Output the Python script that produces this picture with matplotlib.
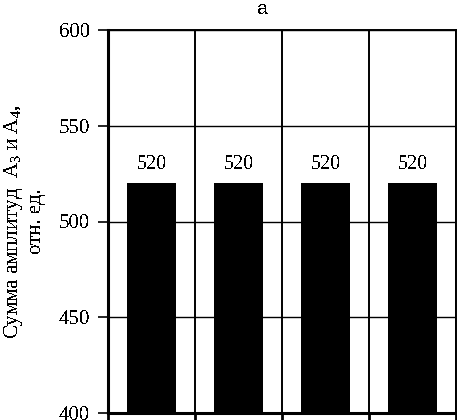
import matplotlib
matplotlib.use("Agg")
import numpy as np
import matplotlib.pyplot as plt

plt.rcParams['font.family'] = ['Liberation Serif', 'DejaVu Serif']
plt.rcParams['mathtext.fontset'] = 'custom'
plt.rcParams['mathtext.rm'] = 'Liberation Serif'
plt.rcParams['mathtext.it'] = 'Liberation Serif'
plt.rcParams['text.antialiased'] = False

# data
categories = ['1', '2', '3', '4']
values = [520, 520, 520, 520]
y_ticks = [400, 450, 500, 550, 600]
title = "a"
ylabel = "Сумма амплитуд  А$_3$ и А$_4$,\nотн. ед."

W, H = 457, 420
fig = plt.figure(figsize=(W / 100, H / 100), dpi=100, facecolor='white')
ax = fig.add_axes([108 / W, 1 - 413 / H, (456 - 108) / W, (413 - 30) / H])

x = np.arange(len(categories)) + 0.5
ax.bar(x, values, width=0.56, color='black', zorder=3)
for xi, v in zip(x, values):
    ax.text(xi, v + 5, f"{v}", ha='center', va='bottom', fontsize=14.5, color='black')

ax.set_xlim(0, len(categories))
ax.set_ylim(y_ticks[0], y_ticks[-1])
ax.set_yticks(y_ticks)
ax.set_xticks(np.arange(len(categories) + 1))
ax.set_xticklabels([])
ax.tick_params(axis='y', direction='out', length=7, width=1.2, labelsize=15, pad=6)
ax.tick_params(axis='x', direction='out', length=6, width=2)

# grid sits under the bars
ax.grid(True, axis='y', color='black', linewidth=1.0, zorder=1)
ax.grid(True, axis='x', color='black', linewidth=1.4, zorder=1)
for s in ax.spines.values():
    s.set_linewidth(1.4)
ax.spines['left'].set_linewidth(2.2)
ax.spines['bottom'].set_linewidth(2.2)

ax.set_ylabel(ylabel, fontsize=15, linespacing=1.15, labelpad=9)
fig.text(263 / W, 1 - 9 / H, title, ha='center', va='center',
         fontsize=14, family='Liberation Sans')

fig.savefig("out.png", dpi=100, facecolor='white')
